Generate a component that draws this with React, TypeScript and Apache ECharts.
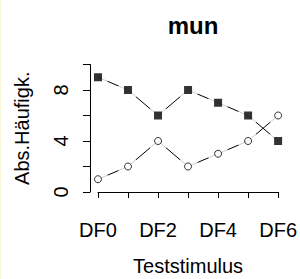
import React, { useEffect, useRef } from "react";
import * as echarts from "echarts";

const categories = ["DF0", "DF1", "DF2", "DF3", "DF4", "DF5", "DF6"];
const filledSquares = [9, 8, 6, 8, 7, 6, 4];
const openCircles = [1, 2, 4, 2, 3, 4, 6];
const yTickLabels = [0, 4, 8];

const FONT = "'Liberation Sans', Arial, sans-serif";

export default function App() {
  const ref = useRef<HTMLDivElement>(null);
  useEffect(() => {
    document.body.style.margin = "0";
    const chart = echarts.init(ref.current!, null, { renderer: "svg" });
    const halo = (data: number[]) => ({
      type: "scatter",
      data,
      symbol: "circle",
      symbolSize: 21,
      itemStyle: { color: "#ffffff" },
      z: 3,
      silent: true,
    });
    chart.setOption({
      animation: false,
      backgroundColor: "#ffffff",
      title: {
        text: "mun",
        left: 188,
        top: 8,
        textAlign: "center",
        textStyle: { fontFamily: FONT, fontSize: 24, fontWeight: "bold", color: "#000" },
      },
      grid: { left: 98, right: 19, top: 64.5, bottom: 87 },
      xAxis: {
        type: "category",
        data: categories,
        boundaryGap: false,
        offset: 7,
        axisLine: { lineStyle: { color: "#000", width: 1 } },
        axisTick: { show: true, interval: 0, length: 6, lineStyle: { color: "#000" } },
        axisLabel: { interval: 1, fontFamily: FONT, fontSize: 20, color: "#000", margin: 21 },
        splitLine: { show: false },
        name: "Teststimulus",
        nameLocation: "middle",
        nameGap: 57,
        nameTextStyle: { fontFamily: FONT, fontSize: 20, color: "#000" },
      },
      yAxis: {
        type: "value",
        min: 0,
        max: 10,
        interval: 2,
        offset: 8,
        z: 10,
        axisLine: { show: true, lineStyle: { color: "#000", width: 1 } },
        axisTick: { show: true, length: 7, lineStyle: { color: "#000" } },
        axisLabel: {
          rotate: 90,
          fontFamily: FONT,
          fontSize: 20,
          color: "#000",
          margin: 19,
          formatter: (v: number) => (yTickLabels.includes(v) ? String(v) : ""),
        },
        splitLine: { show: false },
        name: "Abs.Häufigk.",
        nameLocation: "middle",
        nameRotate: 90,
        nameGap: 58,
        nameTextStyle: { fontFamily: FONT, fontSize: 20, color: "#000" },
      },
      series: [
        {
          type: "line",
          data: filledSquares,
          symbol: "none",
          lineStyle: { color: "#000", width: 1 },
          z: 2,
        },
        {
          type: "line",
          data: openCircles,
          symbol: "none",
          lineStyle: { color: "#000", width: 1 },
          z: 2,
        },
        halo(filledSquares),
        halo(openCircles),
        {
          type: "scatter",
          data: filledSquares,
          symbol: "rect",
          symbolSize: 8,
          itemStyle: { color: "#000" },
          z: 4,
        },
        {
          type: "scatter",
          data: openCircles,
          symbol: "circle",
          symbolSize: 7,
          itemStyle: { color: "#fff", borderColor: "#000", borderWidth: 1 },
          z: 4,
        },
      ],
    });
    return () => chart.dispose();
  }, []);
  return (
    <div style={{ position: "absolute", left: 0, top: 0, width: 300, height: 279 }}>
      <div ref={ref} style={{ width: 300, height: 279 }} />
      <div style={{ position: "absolute", left: 0, top: 0, width: 1, height: 279, background: "#fbf9dc" }} />
    </div>
  );
}
